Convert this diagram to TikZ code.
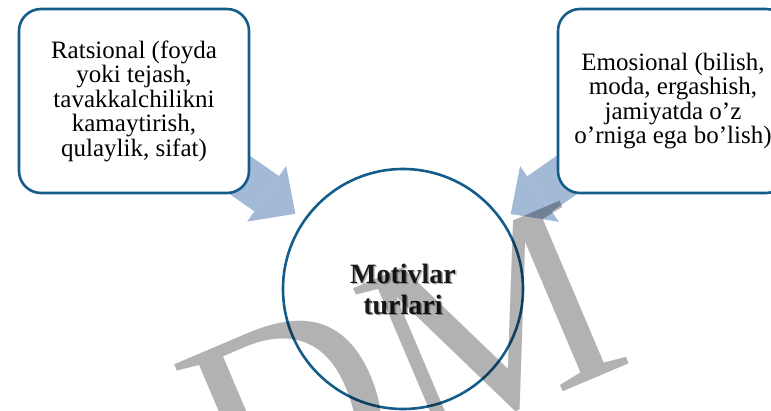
\documentclass[tikz,border=0pt]{standalone}
\usepackage{fontspec}
\setmainfont{Liberation Serif}
\usepackage{tikz}
\usetikzlibrary{arrows.meta, positioning, backgrounds}
\definecolor{boxblue}{RGB}{20,92,138}
\definecolor{arrowblue}{RGB}{162,186,214}

\begin{document}
\begin{tikzpicture}[x=1pt, y=-1pt,
	motbox/.style={draw=boxblue, line width=2.6pt, rounded corners=22pt, fill=white,
		minimum width=230pt, minimum height=184pt, inner sep=0pt, align=center,
		font=\fontsize{25}{24.5}\selectfont},
	motcircle/.style={circle, draw=boxblue, line width=2.6pt, fill=white,
		minimum size=240pt, inner sep=0pt},
	mottext/.style={align=center, inner sep=0pt, font=\fontsize{28}{31}\selectfont\bfseries},
	motarrow/.style={draw=arrowblue, line width=43pt, shorten >=10pt,
		-{Triangle[length=35pt 0, width=68pt 0, line width=0pt 0]}}]
	% Page size
	\useasboundingbox (0,0) rectangle (771,411);
	\clip (0,0) rectangle (771,411);
	
	% Two kinds of motives
	\node[motbox] (rat) at (134,101) {Ratsional (foyda\\yoki tejash,\\tavakkalchilikni\\kamaytirish,\\qulaylik, sifat)};
	\node[motbox] (emo) at (673,101) {Emosional (bilish,\\moda, ergashish,\\jamiyatda o’z\\o’rniga ega bo’lish)};
	
	% Centre circle
	\node[motcircle] (mot) at (403,289) {};
	\node[mottext, text=black!50, opacity=0.6, xshift=1.5pt, yshift=-1.5pt] (motshadow) at (mot.center) {Motivlar\\turlari};
	\node[mottext, text=black!90] (motlabel) at (mot.center) {Motivlar\\turlari};
	
	% Block arrows
	\begin{scope}[on background layer]
		\draw[motarrow] (rat.center) -- (mot);
		\draw[motarrow] (emo.center) -- (mot);
	\end{scope}
	
	% Watermark
	\node[rotate=23, anchor=base west, inner sep=0pt, text=black, opacity=0.3,
		font=\fontsize{270}{270}\selectfont] (mark) at (236,531) {DM};
\end{tikzpicture}
\end{document}
